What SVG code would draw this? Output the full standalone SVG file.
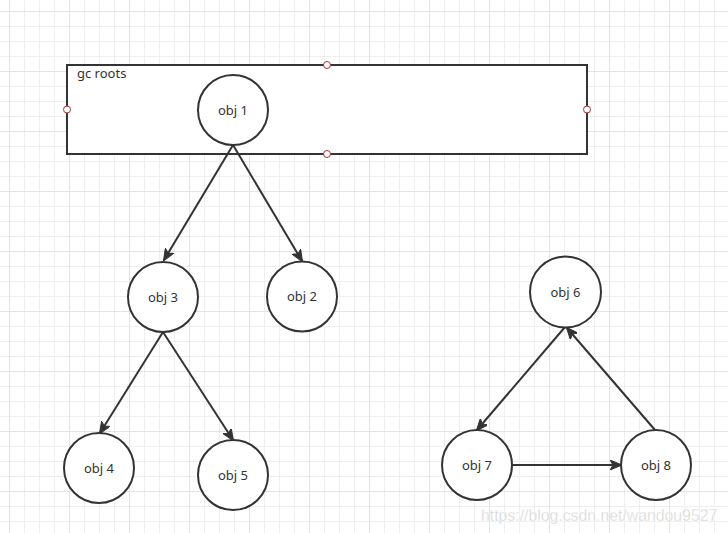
<svg xmlns="http://www.w3.org/2000/svg" width="728" height="533" viewBox="0 0 728 533">
  <style>
    .node circle { fill: #ffffff; stroke: #333333; stroke-width: 2; }
    .label { font-family: "Noto Sans", "Liberation Sans", sans-serif; font-size: 13px; fill: #333333; text-anchor: middle; }
    .edge { stroke: #333333; stroke-width: 2; fill: none; marker-end: url(#arrow); }
    .handle { fill: #ffffff; stroke: #a33333; stroke-width: 1; }
    .wm { font-family: "Liberation Sans", Arial, sans-serif; font-size: 15.8px; fill: #d6d6d6; stroke: #ffffff; stroke-width: 0.3; }
  </style>
  <defs>
    <pattern id="grid" patternUnits="userSpaceOnUse" x="9" y="11" width="60" height="60">
      <rect x="0" y="0" width="60" height="60" fill="#ffffff"/>
      <rect x="15" y="0" width="1" height="60" fill="#efefef"/>
      <rect x="30" y="0" width="1" height="60" fill="#efefef"/>
      <rect x="45" y="0" width="1" height="60" fill="#efefef"/>
      <rect x="0" y="15" width="60" height="1" fill="#efefef"/>
      <rect x="0" y="30" width="60" height="1" fill="#efefef"/>
      <rect x="0" y="45" width="60" height="1" fill="#efefef"/>
      <rect x="0" y="0" width="1" height="60" fill="#e4e4e4"/>
      <rect x="0" y="0" width="60" height="1" fill="#e4e4e4"/>
    </pattern>
    <marker id="arrow" markerUnits="userSpaceOnUse" viewBox="0 0 12 10" refX="11" refY="5" markerWidth="12" markerHeight="10" orient="auto">
      <path d="M0,0 L12,5 L0,10 L3,5 Z" fill="#333333" stroke="#333333" stroke-width="1" stroke-linejoin="miter"/>
    </marker>
  </defs>

  <rect x="0" y="0" width="728" height="533" fill="url(#grid)"/>

  <g id="gc-roots">
    <rect x="67" y="65" width="520" height="89" fill="#ffffff" stroke="#333333" stroke-width="2"/>
    <text x="77" y="78" font-family="Noto Sans, Liberation Sans, sans-serif" font-size="13" fill="#333333">gc roots</text>
    <circle class="handle" cx="67" cy="109.5" r="3.5"/>
    <circle class="handle" cx="587" cy="109.5" r="3.5"/>
    <circle class="handle" cx="327" cy="65" r="3.5"/>
    <circle class="handle" cx="327" cy="154" r="3.5"/>
  </g>

  <g id="connectors">
    <line class="edge" x1="233" y1="145" x2="164" y2="260"/>
    <line class="edge" x1="233" y1="145" x2="302" y2="261"/>
    <line class="edge" x1="163" y1="332" x2="100" y2="433"/>
    <line class="edge" x1="163" y1="332" x2="233" y2="440"/>
    <line class="edge" x1="565" y1="327" x2="477" y2="430"/>
    <line class="edge" x1="512" y1="465" x2="621" y2="465"/>
    <line class="edge" x1="655" y1="430" x2="567" y2="328"/>
  </g>

  <g id="obj1" class="node">
    <circle cx="233" cy="110" r="35"/>
    <text class="label" x="233" y="114.5">obj 1</text>
  </g>
  <g id="obj2" class="node">
    <circle cx="302" cy="296.5" r="35"/>
    <text class="label" x="302" y="301">obj 2</text>
  </g>
  <g id="obj3" class="node">
    <circle cx="163" cy="297" r="35"/>
    <text class="label" x="163" y="301.5">obj 3</text>
  </g>
  <g id="obj4" class="node">
    <circle cx="99" cy="468" r="35"/>
    <text class="label" x="99" y="472.5">obj 4</text>
  </g>
  <g id="obj5" class="node">
    <circle cx="233" cy="475" r="35"/>
    <text class="label" x="233" y="479.5">obj 5</text>
  </g>
  <g id="obj6" class="node">
    <circle cx="565.5" cy="292" r="35.5"/>
    <text class="label" x="565.5" y="296.5">obj 6</text>
  </g>
  <g id="obj7" class="node">
    <circle cx="477" cy="465" r="35"/>
    <text class="label" x="477" y="469.5">obj 7</text>
  </g>
  <g id="obj8" class="node">
    <circle cx="656" cy="465" r="35"/>
    <text class="label" x="656" y="469.5">obj 8</text>
  </g>

  <text class="wm" x="481" y="521">https://blog.csdn.net/wandou9527</text>
</svg>
